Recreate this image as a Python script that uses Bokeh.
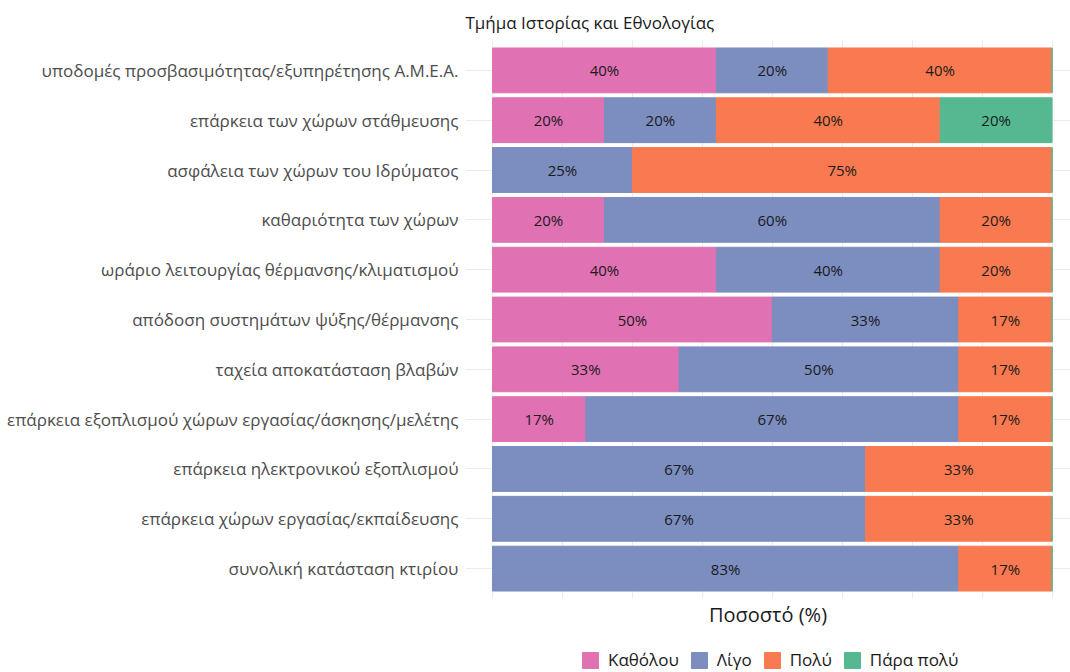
from bokeh.plotting import figure
from bokeh.layouts import column
from bokeh.models import ColumnDataSource, FactorRange, Range1d, FixedTicker, Legend, LegendItem
from bokeh.core.properties import value
from bokeh.embed import file_html
from bokeh.resources import INLINE

title_text = "Τμήμα Ιστορίας και Εθνολογίας"
x_label = "Ποσοστό (%)"

categories = [
    "υποδομές προσβασιμότητας/εξυπηρέτησης Α.Μ.Ε.Α.",
    "επάρκεια των χώρων στάθμευσης",
    "ασφάλεια των χώρων του Ιδρύματος",
    "καθαριότητα των χώρων",
    "ωράριο λειτουργίας θέρμανσης/κλιματισμού",
    "απόδοση συστημάτων ψύξης/θέρμανσης",
    "ταχεία αποκατάσταση βλαβών",
    "επάρκεια εξοπλισμού χώρων εργασίας/άσκησης/μελέτης",
    "επάρκεια ηλεκτρονικού εξοπλισμού",
    "επάρκεια χώρων εργασίας/εκπαίδευσης",
    "συνολική κατάσταση κτιρίου",
]
series_names = ["Καθόλου", "Λίγο", "Πολύ", "Πάρα πολύ"]
katholou = [40, 20, 0, 20, 40, 50, 33.33, 16.67, 0, 0, 0]
ligo = [20, 20, 25, 60, 40, 33.33, 50, 66.67, 66.67, 66.67, 83.33]
poly = [40, 40, 75, 20, 20, 16.67, 16.67, 16.67, 33.33, 33.33, 16.67]
para_poly = [0, 20, 0, 0, 0, 0, 0, 0, 0, 0, 0]
colors = ["#E072B4", "#7C8DC0", "#F97A50", "#55B891"]
grid_ticks = [0, 12.5, 25, 37.5, 50, 62.5, 75, 87.5, 100]

FONT = "Open Sans"
series = [katholou, ligo, poly, para_poly]
keys = ["s0", "s1", "s2", "s3"]

source = ColumnDataSource(data=dict(cat=categories, s0=katholou, s1=ligo, s2=poly, s3=para_poly))

p = figure(
    width=1070, height=645,
    y_range=FactorRange(factors=list(reversed(categories)), range_padding=0.1, range_padding_units="absolute"),
    x_range=Range1d(-4.83, 103.3),
    output_backend="svg", toolbar_location=None,
    min_border_left=465, min_border_right=0, min_border_top=40, min_border_bottom=47,
)

renderers = p.hbar_stack(keys, y="cat", height=0.9, color=colors, source=source)

# segment labels
lx, ly, lt = [], [], []
for i, c in enumerate(categories):
    cum = 0
    for s in series:
        v = s[i]
        if v > 0:
            lx.append(cum + v / 2)
            ly.append(c)
            lt.append("%d%%" % round(v))
        cum += v
p.text(x=lx, y=ly, text=lt, text_align="center", text_baseline="middle",
       text_font=value(FONT), text_font_size="15px", text_color="#1a1a1a")

p.title.text = title_text
p.title.align = "left"
p.title.text_font = FONT
p.title.text_font_size = "17px"
p.title.text_font_style = "normal"
p.title.text_color = "#1a1a1a"
p.title.standoff = 14

p.xgrid.ticker = FixedTicker(ticks=grid_ticks)
p.xgrid.grid_line_color = "#EBEBEB"
p.ygrid.grid_line_color = "#EBEBEB"
p.outline_line_color = None

p.xaxis.ticker = FixedTicker(ticks=[])
p.xaxis.axis_label = x_label
p.xaxis.axis_label_text_font = FONT
p.xaxis.axis_label_text_font_size = "20px"
p.xaxis.axis_label_text_font_style = "normal"
p.xaxis.axis_label_text_color = "#1a1a1a"
p.xaxis.axis_label_standoff = 2
p.xaxis.major_label_standoff = 0
p.xaxis.major_tick_out = 0
p.xaxis.major_tick_in = 0
p.xaxis.major_tick_line_color = None
p.xaxis.minor_tick_line_color = None
p.xaxis.axis_line_color = None

p.yaxis.major_label_text_font = FONT
p.yaxis.major_label_text_font_size = "17px"
p.yaxis.major_label_text_color = "#4d4d4d"
p.yaxis.major_label_standoff = 7
p.yaxis.major_tick_out = 0
p.yaxis.major_tick_in = 0
p.yaxis.major_tick_line_color = None
p.yaxis.axis_line_color = None

# legend strip below the chart (frame aligned with the main chart)
p2 = figure(width=1070, height=27,
            y_range=FactorRange(factors=list(reversed(categories))), x_range=Range1d(-4.83, 103.3),
            output_backend="svg", toolbar_location=None,
            x_axis_location=None, y_axis_location=None,
            min_border_left=465, min_border_right=0, min_border_top=0, min_border_bottom=0)
p2.grid.visible = False
p2.outline_line_color = None
leg_renderers = p2.hbar_stack(keys, y="cat", height=0.9, color=colors, source=source, visible=False)
items = [LegendItem(label=n, renderers=[r]) for n, r in zip(series_names, leg_renderers)]
legend = Legend(items=items, orientation="horizontal", location=(115, 1),
                label_text_font=FONT, label_text_font_size="17px", label_text_color="#1a1a1a",
                glyph_width=20, glyph_height=20, spacing=10, label_standoff=8,
                border_line_color=None, background_fill_alpha=0, padding=1, margin=0)
p2.add_layout(legend)

layout = column(p, p2, spacing=0)
open("out.html", "w").write(file_html(layout, INLINE))
